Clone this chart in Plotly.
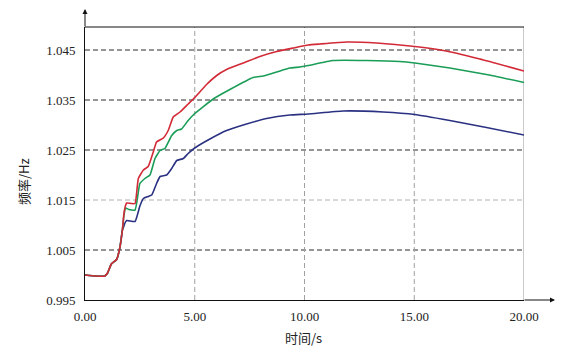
import plotly.graph_objects as go

# ---- data ----
t_common = [0.0, 0.5, 0.9, 1.03, 1.2, 1.44, 1.59, 1.7]
f_common = [1.0000, 0.9998, 0.9998, 1.0004, 1.0022, 1.0031, 1.0055, 1.0089]

t_red = [1.79, 1.90, 2.1, 2.28, 2.43, 2.66, 2.88, 3.11, 3.26, 3.57, 3.79, 4.02, 4.33, 4.70,
         5.0, 5.54, 6.0, 6.45, 7.21, 7.97, 8.73, 9.49, 10.17, 10.7, 11.92, 13.28, 15.03,
         16.32, 17.99, 20.0]
f_red = [1.0128, 1.0144, 1.0143, 1.0143, 1.0193, 1.0210, 1.0217, 1.0246, 1.0266, 1.0274,
         1.0289, 1.0316, 1.0326, 1.0342, 1.0355, 1.0381, 1.0399, 1.0411, 1.0424, 1.0437,
         1.0447, 1.0454, 1.0460, 1.0462, 1.0466, 1.0464, 1.0457, 1.0449, 1.0432, 1.0408]

t_green = [1.77, 1.85, 2.0, 2.28, 2.5, 2.73, 2.96, 3.19, 3.42, 3.64, 3.95, 4.18, 4.40, 4.70,
           5.0, 5.84, 6.6, 7.66, 8.12, 8.73, 9.33, 9.79, 10.17, 11.3, 12.83, 14.34, 15.03,
           16.62, 18.29, 20.0]
f_green = [1.0118, 1.0134, 1.0131, 1.0130, 1.0183, 1.0193, 1.0200, 1.0233, 1.0249, 1.0253,
           1.0279, 1.0289, 1.0292, 1.0309, 1.0323, 1.0352, 1.0371, 1.0395, 1.0398, 1.0406,
           1.0414, 1.0416, 1.0419, 1.0429, 1.0429, 1.0427, 1.0424, 1.0414, 1.0401, 1.0385]

t_blue = [1.75, 1.82, 1.9, 2.28, 2.5, 2.66, 2.88, 3.04, 3.26, 3.42, 3.72, 3.95, 4.18, 4.48,
          4.70, 5.0, 5.69, 6.45, 7.36, 8.27, 9.33, 10.17, 11.76, 13.58, 15.03, 16.62, 18.29,
          20.0]
f_blue = [1.0095, 1.0104, 1.0109, 1.0107, 1.0138, 1.0153, 1.0157, 1.0160, 1.0183, 1.0197,
          1.0200, 1.0213, 1.0229, 1.0233, 1.0243, 1.0254, 1.0272, 1.0289, 1.0302, 1.0313,
          1.0320, 1.0322, 1.0328, 1.0326, 1.0321, 1.0309, 1.0295, 1.0280]

x_ticks = [0, 5, 10, 15, 20]
x_tick_labels = ["0.00", "5.00", "10.00", "15.00", "20.00"]
y_ticks = [0.995, 1.005, 1.015, 1.025, 1.035, 1.045]
y_tick_labels = ["0.995", "1.005", "1.015", "1.025", "1.035", "1.045"]

x_title = "时间/s"
y_title = "频率/Hz"

# ---- styles ----
series = [
    (t_blue, f_blue, "#2a3182"),
    (t_green, f_green, "#1a9d57"),
    (t_red, f_red, "#d22a36"),
]
serif = "Liberation Serif, serif"
cjk = "Noto Sans CJK SC"

fig = go.Figure()

# horizontal dashed grid lines
hgrid_colors = {1.015: "#b0b0b0"}
for yv in y_ticks[1:]:
    fig.add_shape(type="line", xref="paper", yref="y", x0=0, x1=1, y0=yv, y1=yv,
                  line=dict(color=hgrid_colors.get(yv, "#2a2a2a"), width=1, dash="5px,3px"),
                  layer="below")
# vertical dashed grid lines
for xv in x_ticks[1:-1]:
    fig.add_shape(type="line", xref="x", yref="paper", x0=xv, x1=xv, y0=0, y1=1,
                  line=dict(color="#a0a0a0", width=1, dash="5px,3px"), layer="below")
# right frame (gray) and top frame (black)
fig.add_shape(type="line", xref="x", yref="paper", x0=x_ticks[-1], x1=x_ticks[-1], y0=0, y1=1,
              line=dict(color="#b8b8b8", width=1.5), layer="below")
fig.add_shape(type="line", xref="paper", yref="paper", x0=0, x1=1, y0=1, y1=1,
              line=dict(color="#111111", width=1))

for tt, ff, col in series:
    fig.add_trace(go.Scatter(
        x=t_common + tt, y=f_common + ff, mode="lines",
        line=dict(color=col, width=1.6, shape="spline", smoothing=0.4),
        showlegend=False, hoverinfo="skip"))

# axis arrows
fig.add_annotation(xref="paper", yref="paper", x=(555 - 85) / 439, y=0, ax=-32, ay=0,
                   text="", showarrow=True, arrowhead=2, arrowsize=1, arrowwidth=1,
                   arrowcolor="#111111")
fig.add_annotation(xref="paper", yref="paper", x=0, y=(300 - 8) / 273, ax=0, ay=20,
                   text="", showarrow=True, arrowhead=2, arrowsize=1, arrowwidth=1,
                   arrowcolor="#111111")

# axis titles
fig.add_annotation(xref="paper", yref="paper", x=(303 - 85) / 439, y=(300 - 337) / 273,
                   text=x_title, showarrow=False, font=dict(family=cjk, size=13, color="#222"),
                   xanchor="center", yanchor="middle")
fig.add_annotation(xref="paper", yref="paper", x=(23 - 85) / 439, y=(300 - 182) / 273,
                   text=y_title, showarrow=False, textangle=-90,
                   font=dict(family=cjk, size=13, color="#222"),
                   xanchor="center", yanchor="middle")

fig.update_layout(
    width=583, height=357,
    margin=dict(l=77, r=67, t=19, b=65),
    paper_bgcolor="white", plot_bgcolor="white",
    font=dict(family=serif, size=13, color="#222222"),
    xaxis=dict(range=[0, 20], tickvals=x_ticks, ticktext=x_tick_labels, showgrid=False,
               zeroline=False, showline=True, linecolor="#111111", linewidth=1,
               ticks="", ticklabelstandoff=4, tickfont=dict(family=serif, size=13)),
    yaxis=dict(range=[0.995, 1.0496], tickvals=y_ticks, ticktext=y_tick_labels,
               showgrid=False, zeroline=False, showline=True, linecolor="#111111",
               linewidth=1, ticks="", ticklabelstandoff=6,
               tickfont=dict(family=serif, size=13)),
)

fig.write_html("out.html")
